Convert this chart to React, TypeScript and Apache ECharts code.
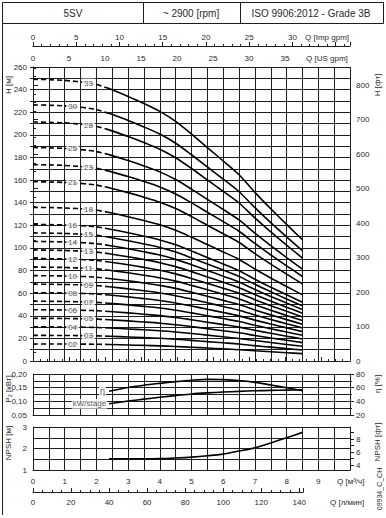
import React, { useEffect, useRef } from "react";
import * as echarts from "echarts";

// ---------- data ----------
const stageLabels = ["02", "03", "04", "05", "06", "07", "08", "09", "10", "11", "12", "13", "14", "15", "16", "18", "21", "23", "25", "28", "30", "33"];
const stages = [2, 3, 4, 5, 6, 7, 8, 9, 10, 11, 12, 13, 14, 15, 16, 18, 21, 23, 25, 28, 30, 33];
// flow points [m3/h] and head per stage [m]
const qHead = [0, 0.5, 1, 1.25, 1.5, 1.75, 2, 2.4, 3, 3.5, 4, 4.5, 5, 5.5, 6, 6.5, 7, 7.5, 8, 8.5];
const headPerStage = [7.55, 7.54, 7.52, 7.5, 7.48, 7.45, 7.41, 7.3, 7.09, 6.9, 6.69, 6.42, 6.08, 5.72, 5.36, 4.99, 4.52, 4.08, 3.66, 3.25];
const dashedEndIdx = 7; // Q = 2.4 : dashed part ends, solid part begins
const labelIdxLeft = 3; // Q = 1.25
const labelIdxRight = 5; // Q = 1.75

const qPerf = [2.4, 3, 3.5, 4, 4.5, 5, 5.5, 6, 6.5, 7, 7.5, 8, 8.5];
const efficiency = [54.8, 60.3, 63.6, 66.3, 68.8, 70.9, 72.2, 71.8, 70.4, 67.8, 64.0, 59.8, 55.6];
const powerPerStage = [0.091, 0.101, 0.108, 0.115, 0.121, 0.127, 0.131, 0.134, 0.1365, 0.1385, 0.14, 0.141, 0.142];
const npshM = [1.52, 1.52, 1.52, 1.53, 1.56, 1.6, 1.66, 1.74, 1.88, 2.03, 2.26, 2.5, 2.75];

const npshFtLabels = [4, 6, 8];
const npshFtTicks = [4, 5, 6, 7, 8, 9];

// unit conversions
const M3H_TO_USGPM = 4.40287;
const M3H_TO_IMPGPM = 3.66615;
const M3H_TO_LMIN = 1000 / 60;
const M_TO_FT = 3.28084;
const Q_MAX = 10;
const H_MAX = 260;
const LMIN_AXIS_MAX = 142;

// ---------- layout ----------
const PL = 33;
const PW = 317;
const FONT = "'Liberation Sans', Arial, Helvetica, sans-serif";
const TXT = "#2a2a2a";
const LINE = "#1e1e1e";

const lbl = (extra: any = {}) => ({ color: TXT, fontFamily: FONT, fontSize: 8, ...extra });

export default function App() {
  const ref = useRef<HTMLDivElement>(null);

  useEffect(() => {
    if (!ref.current) return;
    const chart = echarts.init(ref.current, null, { renderer: "svg" });

    const axisLine = { show: true, lineStyle: { color: LINE, width: 1 } };
    const split = { show: true, lineStyle: { color: LINE, width: 1 } };

    const series: any[] = [];
    stages.forEach((n, i) => {
      const pts = qHead.map((q, j) => [q, n * headPerStage[j]]);
      series.push({
        type: "line", xAxisIndex: 0, yAxisIndex: 0, smooth: 0.3, symbol: "none", silent: true, z: 3,
        data: pts.slice(0, dashedEndIdx + 1),
        lineStyle: { color: "#000", width: 1.6, type: [5, 3] },
      });
      series.push({
        type: "line", xAxisIndex: 0, yAxisIndex: 0, smooth: 0.3, symbol: "none", silent: true, z: 3,
        data: pts.slice(dashedEndIdx),
        lineStyle: { color: "#000", width: 1.6 },
      });
      const li = i % 2 === 0 ? labelIdxLeft : labelIdxRight;
      series.push({
        type: "scatter", xAxisIndex: 0, yAxisIndex: 0, symbolSize: 0, silent: true, z: 6,
        data: [pts[li]],
        label: {
          show: true, position: "inside", formatter: stageLabels[i],
          backgroundColor: "#fff", padding: [1, 2, 0, 2], ...lbl({ fontSize: 8 }),
        },
      });
    });

    const effPts = qPerf.map((q, j) => [q, efficiency[j]]);
    const pwrPts = qPerf.map((q, j) => [q, powerPerStage[j]]);
    const npshPts = qPerf.map((q, j) => [q, npshM[j]]);

    series.push(
      { type: "line", xAxisIndex: 3, yAxisIndex: 3, smooth: 0.3, symbol: "none", silent: true, z: 3, data: effPts, lineStyle: { color: "#000", width: 1.6 } },
      { type: "line", xAxisIndex: 3, yAxisIndex: 2, smooth: 0.3, symbol: "none", silent: true, z: 3, data: pwrPts, lineStyle: { color: "#000", width: 1.6 } },
      { type: "scatter", xAxisIndex: 3, yAxisIndex: 3, symbolSize: 0, silent: true, z: 6, data: [effPts[0]],
        label: { show: true, position: "left", distance: 3, formatter: "η", backgroundColor: "#fff", padding: [0, 1], ...lbl({ fontSize: 9 }) } },
      { type: "scatter", xAxisIndex: 3, yAxisIndex: 2, symbolSize: 0, silent: true, z: 6, data: [pwrPts[0]],
        label: { show: true, position: "left", distance: 2, formatter: "kW/stage", backgroundColor: "#fff", padding: [1, 1], ...lbl({ fontSize: 8 }) } },
      { type: "line", xAxisIndex: 4, yAxisIndex: 4, smooth: 0.3, symbol: "none", silent: true, z: 3, data: npshPts, lineStyle: { color: "#000", width: 1.6 } },
    );

    const rotText = (text: string, x: number, y: number, size = 8) => ({
      type: "text", x, y, rotation: Math.PI / 2, silent: true,
      style: { text, fill: TXT, font: `${size}px ${FONT}`, align: "center", verticalAlign: "middle" },
    });
    const hText = (text: string, x: number, y: number, size = 8, align = "left") => ({
      type: "text", x, y, silent: true,
      style: { text, fill: TXT, font: `${size}px ${FONT}`, align, verticalAlign: "middle" },
    });

    const option: any = {
      animation: false,
      grid: [
        { left: PL, top: 67, width: PW, height: 294 },
        { left: PL, top: 374, width: PW, height: 41 },
        { left: PL, top: 427, width: PW, height: 43 },
        { left: PL, top: 491, width: (PW * LMIN_AXIS_MAX) / (Q_MAX * M3H_TO_LMIN), height: 1 },
      ],
      xAxis: [
        { gridIndex: 0, type: "value", min: 0, max: Q_MAX, interval: 0.5, position: "bottom", axisLine, axisTick: { show: false }, axisLabel: { show: false }, splitLine: split },
        { gridIndex: 0, type: "value", min: 0, max: Q_MAX * M3H_TO_USGPM, interval: 5, position: "top", axisLine,
          axisTick: { show: true, length: 4, lineStyle: { color: LINE } },
          minorTick: { show: true, splitNumber: 5, length: 2, lineStyle: { color: LINE } },
          axisLabel: lbl({ margin: 5, formatter: (v: number) => (v <= 35 && Math.abs(v % 5) < 1e-6 ? String(v) : "") }),
          splitLine: { show: false } },
        { gridIndex: 0, type: "value", min: 0, max: Q_MAX * M3H_TO_IMPGPM, interval: 5, position: "top", offset: 21, axisLine,
          axisTick: { show: true, length: 4, lineStyle: { color: LINE } },
          minorTick: { show: true, splitNumber: 5, length: 2, lineStyle: { color: LINE } },
          axisLabel: lbl({ margin: 5, formatter: (v: number) => (v <= 30 && Math.abs(v % 5) < 1e-6 ? String(v) : "") }),
          splitLine: { show: false } },
        { gridIndex: 1, type: "value", min: 0, max: Q_MAX, interval: 0.5, axisLine, axisTick: { show: false }, axisLabel: { show: false }, splitLine: split },
        { gridIndex: 2, type: "value", min: 0, max: Q_MAX, interval: 0.5, axisLine, axisTick: { show: false },
          axisLabel: lbl({ margin: 7, formatter: (v: number) => (Number.isInteger(v) && v < 10 ? String(v) : "") }),
          splitLine: split },
        { gridIndex: 3, type: "value", min: 0, max: LMIN_AXIS_MAX, interval: 20, position: "bottom", axisLine,
          axisTick: { show: true, inside: true, length: 4, lineStyle: { color: LINE } },
          minorTick: { show: true, splitNumber: 4, length: 2, lineStyle: { color: LINE } },
          axisLabel: lbl({ margin: 6, formatter: (v: number) => (v <= 140 && v % 20 === 0 ? String(v) : "") }),
          splitLine: { show: false } },
      ],
      yAxis: [
        { gridIndex: 0, type: "value", min: 0, max: H_MAX, interval: 10, position: "left", axisLine,
          axisTick: { show: true, length: 3, lineStyle: { color: LINE } },
          axisLabel: lbl({ margin: 6, formatter: (v: number) => (v % 20 === 0 ? String(v) : "") }),
          splitLine: split },
        { gridIndex: 0, type: "value", min: 0, max: H_MAX * M_TO_FT, interval: 100, position: "right", axisLine,
          axisTick: { show: true, length: 5, lineStyle: { color: LINE } },
          minorTick: { show: true, splitNumber: 4, length: 3, lineStyle: { color: LINE } },
          axisLabel: lbl({ margin: 6, formatter: (v: number) => (v <= 800 && v % 100 === 0 ? String(v) : "") }),
          splitLine: { show: false } },
        { gridIndex: 1, type: "value", min: 0.05, max: 0.2, interval: 0.025, position: "left", axisLine,
          axisTick: { show: false },
          axisLabel: lbl({ margin: 6, formatter: (v: number) => (Math.round(v * 1000) % 50 === 0 ? v.toFixed(2).replace(".", ",") : "") }),
          splitLine: split },
        { gridIndex: 1, type: "value", min: 20, max: 80, interval: 20, position: "right", axisLine,
          axisTick: { show: true, length: 4, lineStyle: { color: LINE } },
          minorTick: { show: true, splitNumber: 2, length: 2, lineStyle: { color: LINE } },
          axisLabel: lbl({ margin: 6 }),
          splitLine: { show: false } },
        { gridIndex: 2, type: "value", min: 1, max: 3, interval: 0.5, position: "left", axisLine,
          axisTick: { show: false },
          axisLabel: lbl({ margin: 6, formatter: (v: number) => (Number.isInteger(v) ? String(v) : "") }),
          splitLine: split },
        { gridIndex: 2, type: "value", min: 1 * M_TO_FT, max: 3 * M_TO_FT, position: "right", axisLine,
          axisTick: { show: true, length: 4, customValues: npshFtTicks, lineStyle: { color: LINE } },
          axisLabel: lbl({ margin: 6, customValues: npshFtLabels }),
          splitLine: { show: false } },
        { gridIndex: 3, type: "value", show: false },
      ],
      series,
      graphic: [
        { type: "rect", silent: true, shape: { x: 2.5, y: 2.5, width: 381, height: 21 }, style: { fill: "none", stroke: LINE, lineWidth: 1 } },
        { type: "line", silent: true, shape: { x1: 143.5, y1: 2.5, x2: 143.5, y2: 23.5 }, style: { stroke: LINE, lineWidth: 1 } },
        { type: "line", silent: true, shape: { x1: 240.5, y1: 2.5, x2: 240.5, y2: 23.5 }, style: { stroke: LINE, lineWidth: 1 } },
        { type: "line", silent: true, shape: { x1: 2.5, y1: 23.5, x2: 2.5, y2: 515 }, style: { stroke: LINE, lineWidth: 1 } },
        hText("5SV", 73, 13, 10, "center"),
        hText("~ 2900 [rpm]", 191, 13, 10, "center"),
        hText("ISO 9906:2012 - Grade 3B", 311, 13, 10, "center"),
        hText("Q [Imp gpm]", 305, 37),
        hText("Q [US gpm]", 306, 58),
        hText("Q [м³/ч]", 337, 481),
        hText("Q [л/мин]", 330, 502),
        rotText("H [м]", 8, 85),
        rotText("P₂ [кВт]", 8, 389),
        rotText("NPSH [м]", 8, 443),
        rotText("H [фт]", 377, 85),
        rotText("η [%]", 377, 384),
        rotText("NPSH [фт]", 377, 442),
        rotText("09934_C_CH", 379, 489, 7),
      ],
    };

    chart.setOption(option);
    return () => chart.dispose();
  }, []);

  return <div ref={ref} style={{ position: "fixed", left: 0, top: 0, width: 386, height: 518, background: "#fff" }} />;
}
